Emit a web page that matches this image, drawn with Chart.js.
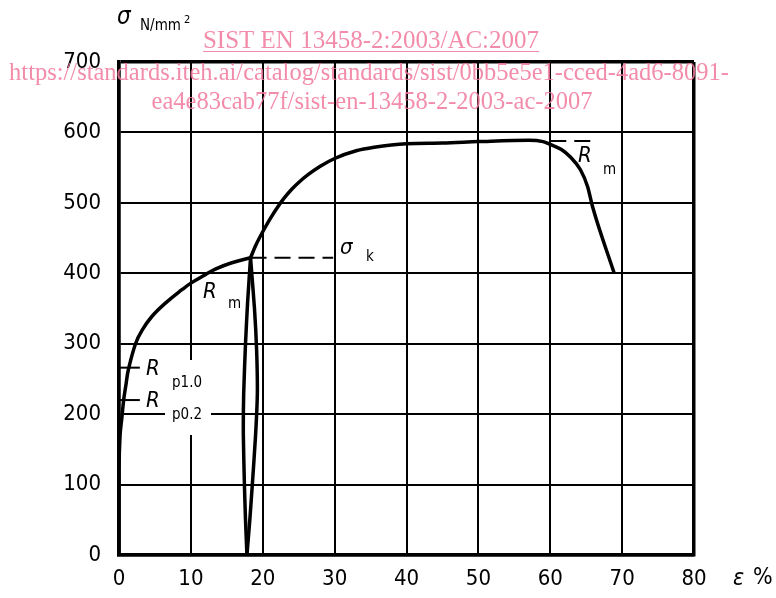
<!DOCTYPE html>
<html>
<head>
<meta charset="utf-8">
<script src="https://cdn.jsdelivr.net/npm/chart.js@4.4.0/dist/chart.umd.min.js"></script>
<style>
  html, body { margin: 0; background: #fff; }
  #wrap { position: relative; width: 776px; height: 598px; }
</style>
</head>
<body>
<div id="wrap"><canvas id="c" width="776" height="598"></canvas></div>
<script>
// stress-strain curve (strain %, stress N/mm2)
const riseEps = [0, 0, 0.15, 0.42, 0.65, 1.0, 1.3, 2.3, 3.2, 4.6, 6.5, 8.8, 10, 12, 13.4, 15.7, 18.3];
const riseSig = [0, 120, 170, 197, 220, 244, 263, 300, 319, 339, 358, 377, 386, 398, 406, 415, 422];

const lensLeftEps = [18.3, 17.9, 17.6, 17.35, 17.3, 17.45, 17.6, 17.8];
const lensLeftSig = [422, 360, 300, 230, 170, 100, 50, 0];
const lensRightEps = [17.8, 18.2, 18.55, 19.0, 19.25, 19.15, 18.85, 18.3];
const lensRightSig = [0, 50, 100, 170, 230, 290, 350, 422];

const upperEps = [18.3, 19, 20, 21, 22.2, 23, 24, 25, 26.3, 28, 30, 33, 35.5, 40, 45, 50, 57, 59, 60, 61.5, 62.8, 64.2, 65.2, 65.9, 68.9];
const upperSig = [422, 439, 459, 477, 496, 507, 519, 529, 540, 552, 563, 574, 579, 584, 585, 587, 589, 587, 583, 576, 565, 547, 523, 494, 400];

// reference levels
const sigmaK = 422, sigmaKEnd = 29.8;
const rmTop = 588, rmTopFrom = 60, rmTopTo = 65.8;
const rp10 = 266, rp02 = 220, rpTickEnd = 2.9;

const xTicks = [0, 10, 20, 30, 40, 50, 60, 70, 80];
const yTicks = [0, 100, 200, 300, 400, 500, 600, 700];

const pts = (xs, ys) => xs.map((x, i) => ({ x, y: ys[i] }));
const line = (data, extra) => Object.assign({
  data, borderColor: '#000', borderWidth: 3.5, pointRadius: 0,
  showLine: true, tension: 0.35, fill: false
}, extra);

const condensed = '"DejaVu Sans Condensed", "DejaVu Sans", sans-serif';

function txt(ctx, s, x, y, font, align) {
  ctx.font = font;
  ctx.textAlign = align || 'left';
  ctx.textBaseline = 'middle';
  ctx.fillStyle = '#000';
  ctx.fillText(s, x, y);
}

const labelsPlugin = {
  id: 'labels',
  beforeDatasetsDraw(chart) {
    const ctx = chart.ctx;
    ctx.save();
    // gap in the grid behind the Rp labels
    ctx.fillStyle = '#fff';
    ctx.fillRect(165, 360, 46, 75);
    const R = 'italic 22px ' + condensed, sub = '15px ' + condensed;
    txt(ctx, 'R', 146, 369, R); txt(ctx, 'p1.0', 172, 383, sub);
    txt(ctx, 'R', 146, 401, R); txt(ctx, 'p0.2', 172, 415, sub);
    txt(ctx, 'R', 203, 292, R); txt(ctx, 'm', 228, 304, sub);
    txt(ctx, 'σ', 340, 248, R); txt(ctx, 'k', 366, 257, sub);
    txt(ctx, 'R', 578, 156, R); txt(ctx, 'm', 603, 170, sub);
    // axis titles
    txt(ctx, 'σ', 117, 18, 'italic 24px ' + condensed);
    txt(ctx, 'N/mm', 140, 26, '15px ' + condensed);
    txt(ctx, '2', 184, 20, '11px ' + condensed);
    txt(ctx, 'ε', 733, 579, 'italic 23px ' + condensed);
    txt(ctx, '%', 753, 578, '23px ' + condensed);
    ctx.restore();
  },
  afterDraw(chart) {
    const ctx = chart.ctx;
    ctx.save();
    ctx.fillStyle = 'rgba(240, 120, 155, 0.85)';
    ctx.strokeStyle = 'rgba(240, 120, 155, 0.85)';
    ctx.textBaseline = 'alphabetic';
    ctx.textAlign = 'center';
    ctx.font = '25px "Liberation Serif", serif';
    const t1 = 'SIST EN 13458-2:2003/AC:2007';
    ctx.fillText(t1, 371, 48);
    const w1 = ctx.measureText(t1).width;
    ctx.lineWidth = 1;
    ctx.beginPath(); ctx.moveTo(371 - w1 / 2, 51.5); ctx.lineTo(371 + w1 / 2, 51.5); ctx.stroke();
    ctx.font = '24.5px "Liberation Serif", serif';
    ctx.fillText('https://standards.iteh.ai/catalog/standards/sist/0bb5e5e1-cced-4ad6-8091-', 369, 80);
    ctx.fillText('ea4e83cab77f/sist-en-13458-2-2003-ac-2007', 372, 109);
    ctx.restore();
  }
};

const edgeWidth = (max) => (c) => (c.tick && (c.tick.value === 0 || c.tick.value === max)) ? 3.5 : 2;

new Chart(document.getElementById('c'), {
  type: 'scatter',
  data: {
    datasets: [
      line(pts(riseEps, riseSig), { tension: 0.4 }),
      line(pts(lensLeftEps, lensLeftSig), { tension: 0.2 }),
      line(pts(lensRightEps, lensRightSig), { tension: 0.2 }),
      line(pts(upperEps, upperSig), { cubicInterpolationMode: 'monotone' }),
      line(pts([18.3, sigmaKEnd], [sigmaK, sigmaK]), { borderWidth: 2, borderDash: [16, 8], tension: 0 }),
      line(pts([rmTopFrom, rmTopTo], [rmTop, rmTop]), { borderWidth: 2, borderDash: [16, 8], tension: 0 }),
      line(pts([0, rpTickEnd], [rp10, rp10]), { borderWidth: 2, tension: 0 }),
      line(pts([0, rpTickEnd], [rp02, rp02]), { borderWidth: 2, tension: 0 })
    ]
  },
  options: {
    responsive: false,
    animation: false,
    devicePixelRatio: 1,
    layout: { padding: { top: 62, right: 82, left: 0, bottom: 0 } },
    plugins: { legend: { display: false }, tooltip: { enabled: false } },
    scales: {
      x: {
        type: 'linear', min: 0, max: 80,
        afterBuildTicks: s => { s.ticks = xTicks.map(v => ({ value: v })); },
        afterFit: s => { s.height = 43; },
        ticks: { color: '#000', padding: 11, font: { family: condensed, size: 22 } },
        grid: { color: '#000', lineWidth: edgeWidth(80), drawTicks: false },
        border: { color: '#000', width: 3.5 }
      },
      y: {
        type: 'linear', min: 0, max: 700,
        afterBuildTicks: s => { s.ticks = yTicks.map(v => ({ value: v })); },
        afterFit: s => { s.width = 119; },
        ticks: { color: '#000', padding: 18, font: { family: condensed, size: 22 } },
        grid: { color: '#000', lineWidth: edgeWidth(700), drawTicks: false },
        border: { color: '#000', width: 3.5 }
      }
    }
  },
  plugins: [labelsPlugin]
});
</script>
</body>
</html>
